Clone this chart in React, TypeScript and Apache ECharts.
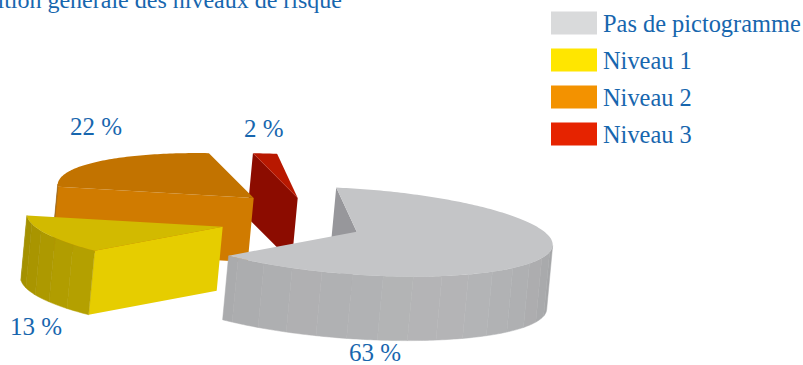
import React, { useEffect, useRef } from "react";
import * as echarts from "echarts";

const titleText = "Répartition générale des niveaux de risque";
const categories = ["Pas de pictogramme", "Niveau 1", "Niveau 2", "Niveau 3"];
const shares = [63, 13, 22, 2];

const legendColors = ["#d9dadb", "#ffe600", "#f39200", "#e62300"];
const topColors = [[196, 197, 199], [210, 186, 0], [194, 115, 0], [184, 24, 0]];
const startFaceColors = ["#97979b", "#e6cd00", "#d07b00", "#8c0c00"];
// Apex of each exploded wedge on the page
const apexes = [[356.7, 231.7], [222.7, 226.7], [253.7, 198], [297.7, 198]];
const labelAnchors = [[349, 365], [10, 339], [70, 139], [244, 141]];

const FIRST_ANGLE = -96;
const RADIUS_X = 196;
const RADIUS_Y = 43;
const TILT = 13;
const DEPTH = [-6, 64];
const FACET = 9;
const INK = "#1766ae";
const FONT = '25px "Liberation Serif"';

const rad = (d: number) => (d * Math.PI) / 180;
const rim = (apex: number[], deg: number) => [
  apex[0] + RADIUS_X * Math.cos(rad(deg)),
  apex[1] + TILT * Math.cos(rad(deg)) + RADIUS_Y * Math.sin(rad(deg)),
];
const drop = (p: number[]) => [p[0] + DEPTH[0], p[1] + DEPTH[1]];

function wallShade(rgb: number[], deg: number) {
  const s = Math.sin(rad(deg));
  const f = 0.76 + 0.14 * Math.max(s, 0) + 0.07 * Math.max(Math.cos(rad(deg)), 0);
  return `rgb(${rgb.map((c) => Math.round(c * f)).join(",")})`;
}

function wedge(index: number, share: number) {
  const before = shares.slice(0, index).reduce((a, b) => a + b, 0);
  const from = FIRST_ANGLE + before * 3.6;
  const to = from + share * 3.6;
  const apex = apexes[index];
  const children: any[] = [];

  // Radial face on the leading edge of the wedge
  const edge = rim(apex, from);
  children.push({
    type: "polygon",
    shape: { points: [edge, apex, drop(apex), drop(edge)] },
    style: { fill: startFaceColors[index] },
  });

  // Outer wall, in flat facets, only where it faces the viewer
  const wallFrom = Math.max(from, 1.2);
  const wallTo = Math.min(to, 181.2);
  for (let a = wallFrom; a < wallTo; a += FACET) {
    const b = Math.min(a + FACET, wallTo);
    const upper: number[][] = [];
    for (let d = a; d < b; d += 1) upper.push(rim(apex, d));
    upper.push(rim(apex, b));
    const lower = upper.map(drop).reverse();
    const shade = wallShade(topColors[index], (a + b) / 2);
    children.push({
      type: "polygon",
      shape: { points: [...upper, ...lower] },
      style: { fill: shade, stroke: shade, lineWidth: 0.5 },
    });
  }

  // Top face
  const top = [apex];
  for (let d = from; d < to; d += 1) top.push(rim(apex, d));
  top.push(rim(apex, to));
  children.push({
    type: "polygon",
    shape: { points: top },
    style: { fill: `rgb(${topColors[index].join(",")})` },
  });

  children.push({
    type: "text",
    style: {
      text: `${share} %`,
      x: labelAnchors[index][0],
      y: labelAnchors[index][1],
      fill: INK,
      font: FONT,
      textAlign: "left",
      textVerticalAlign: "bottom",
    },
  });
  return { type: "group", children };
}

export default function App() {
  const ref = useRef<HTMLDivElement>(null);
  useEffect(() => {
    if (!ref.current) return;
    const chart = echarts.init(ref.current, undefined, { renderer: "svg" });
    // Back wedges first so the nearer ones overlap them
    const drawOrder = [3, 2, 1, 0];
    chart.setOption({
      animation: false,
      title: {
        text: titleText,
        textAlign: "right",
        left: 342,
        top: -12,
        padding: 0,
        textStyle: { fontFamily: "Liberation Serif", fontSize: 24, fontWeight: "normal", color: INK },
      },
      legend: {
        orient: "vertical",
        left: 551,
        top: 11,
        padding: 0,
        itemWidth: 46,
        itemHeight: 23,
        itemGap: 13,
        selectedMode: false,
        icon: "rect",
        data: categories,
        textStyle: {
          fontFamily: "Liberation Serif",
          fontSize: 24.4,
          color: INK,
          padding: [0, 0, 4, 1],
          height: 19,
          lineHeight: 19,
        },
      },
      series: drawOrder.map((i) => ({
        type: "custom",
        name: categories[i],
        coordinateSystem: "none",
        silent: true,
        itemStyle: { color: legendColors[i] },
        data: [[shares[i]]],
        renderItem: (_p: any, api: any) => wedge(i, api.value(0)),
      })),
    });
    return () => chart.dispose();
  }, []);
  return <div ref={ref} style={{ position: "absolute", left: 0, top: 0, width: 803, height: 365 }} />;
}
